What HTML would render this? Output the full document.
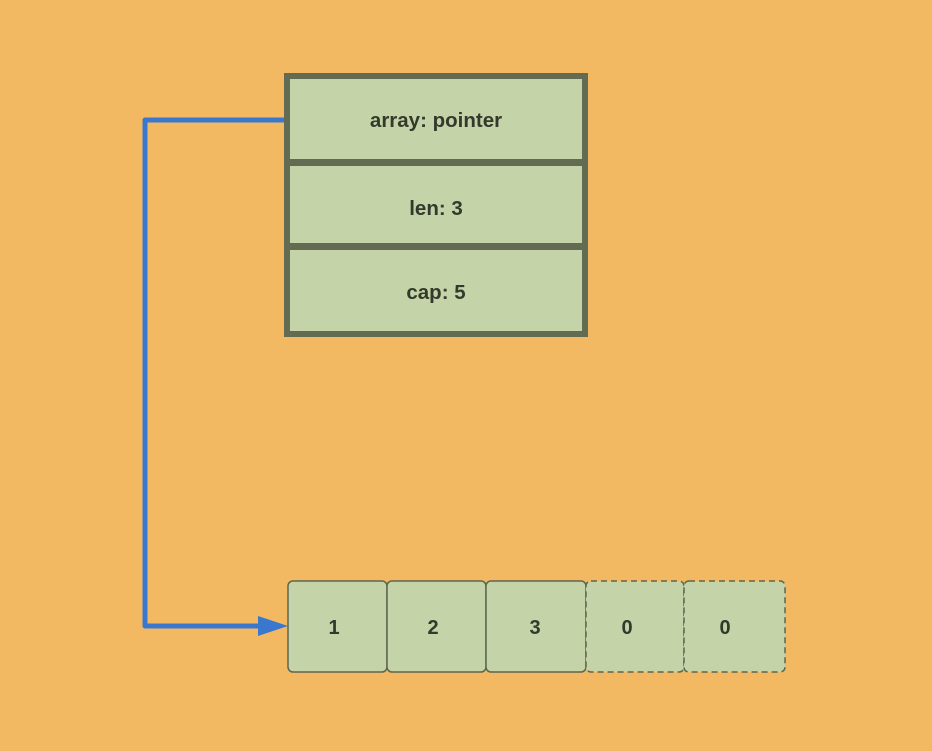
<!DOCTYPE html>
<html><head><style>
body{margin:0;width:932px;height:746px;background:#f2b862;overflow:hidden}
</style></head><body>
<svg width="932" height="746" xmlns="http://www.w3.org/2000/svg" font-family="Liberation Sans, sans-serif" font-weight="bold" fill="#333">
<rect x="0" y="0" width="932" height="746" fill="#f2b862"/>
<rect x="287" y="76" width="298" height="258" fill="#c5d3a8" stroke="#636b52" stroke-width="6"/>
<rect x="287" y="159" width="298" height="7" fill="#636b52"/>
<rect x="287" y="243" width="298" height="7" fill="#636b52"/>
<g font-size="20.5" text-anchor="middle" fill="#333a2c">
<text x="436" y="127">array: pointer</text>
<text x="436" y="215">len: 3</text>
<text x="436" y="299">cap: 5</text>
</g>
<polyline points="284,120 145,120 145,626 262,626" fill="none" stroke="#3a78d0" stroke-width="5" stroke-linejoin="round"/>
<polygon points="258,616 288,626 258,636" fill="#3a78d0"/>
<g fill="#c5d3a8" stroke="#5c6650" stroke-width="1.5">
<rect x="288" y="581" width="99" height="91" rx="5"/>
<rect x="387" y="581" width="99" height="91" rx="5"/>
<rect x="486" y="581" width="100" height="91" rx="5"/>
<rect x="586" y="581" width="98" height="91" rx="5" stroke-dasharray="6,4"/>
<rect x="684" y="581" width="101" height="91" rx="5" stroke-dasharray="6,4"/>
</g>
<g font-size="20" text-anchor="middle" fill="#333a2c">
<text x="334" y="634">1</text>
<text x="433" y="634">2</text>
<text x="535" y="634">3</text>
<text x="627" y="634">0</text>
<text x="725" y="634">0</text>
</g>
</svg>
</body></html>
